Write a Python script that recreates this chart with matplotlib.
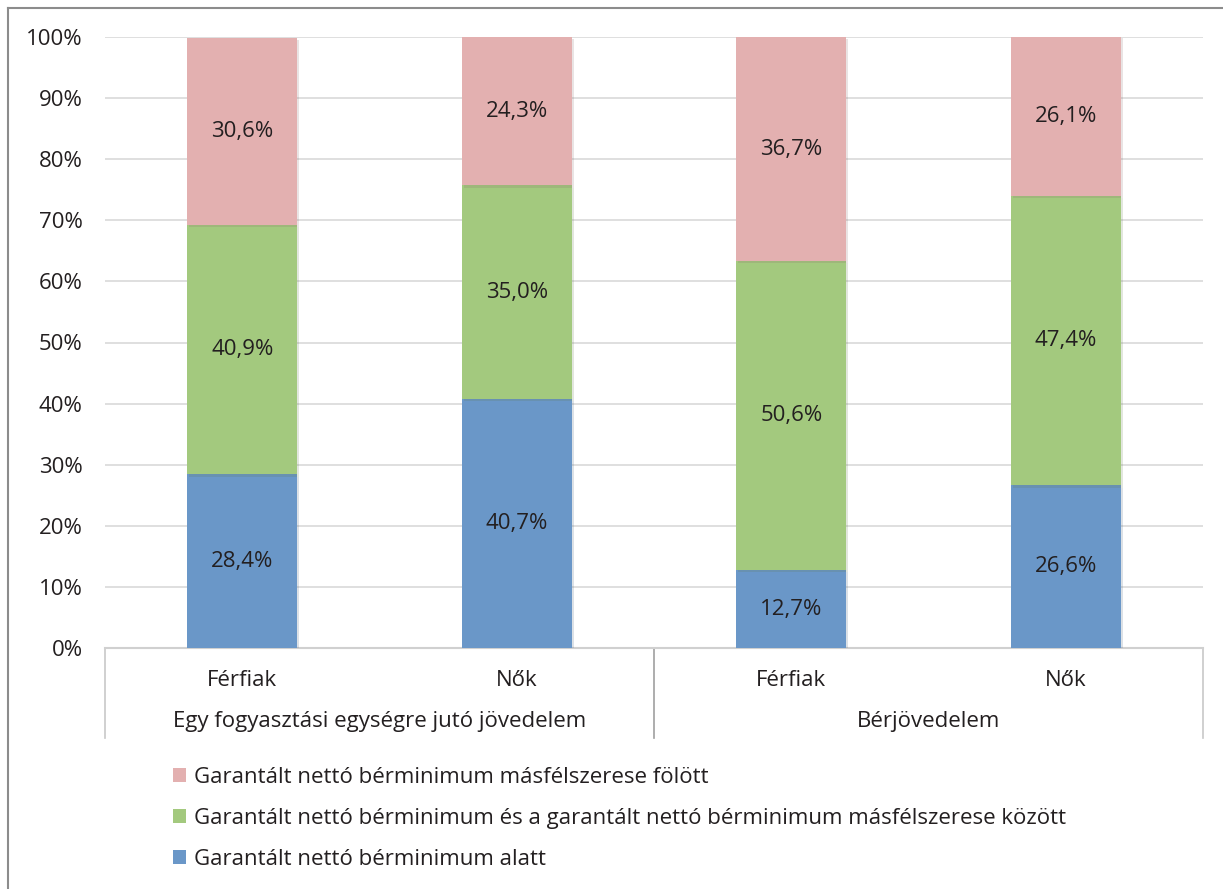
import matplotlib
matplotlib.use("Agg")
import matplotlib.pyplot as plt
from matplotlib.patches import Patch
from matplotlib.lines import Line2D
import matplotlib.patheffects as pe
import numpy as np

plt.rcParams['font.family'] = ['Open Sans', 'DejaVu Sans']

categories = ["Férfiak", "Nők", "Férfiak", "Nők"]
groups = ["Egy fogyasztási egységre jutó jövedelem", "Bérjövedelem"]
below = [28.4, 40.7, 12.7, 26.6]
between = [40.9, 35.0, 50.6, 47.4]
above = [30.6, 24.3, 36.7, 26.1]
series_names = [
    "Garantált nettó bérminimum alatt",
    "Garantált nettó bérminimum és a garantált nettó bérminimum másfélszerese között",
    "Garantált nettó bérminimum másfélszerese fölött",
]
colors = ["#6A97C8", "#A3C97E", "#E3B0B0"]
yticks = [0, 10, 20, 30, 40, 50, 60, 70, 80, 90, 100]

W, H = 1223, 889
FS = 16
fig = plt.figure(figsize=(W / 100, H / 100), dpi=100)
ax = fig.add_axes([105 / W, (H - 648) / H, (1203 - 105) / W, (648 - 37) / H])

x = np.arange(len(categories))
bottom = np.zeros(len(categories))
txt = "#231F20"
shadow = [pe.SimplePatchShadow(offset=(1.5, -1.5), alpha=0.18, rho=0.6), pe.Normal()]
for vals, col in zip([below, between, above], colors):
    bars = ax.bar(x, vals, bottom=bottom, width=0.4, color=col, zorder=3)
    for b in bars:
        b.set_path_effects(shadow)
    ax.bar_label(bars, labels=[f"{v:.1f}%".replace('.', ',') for v in vals],
                 label_type='center', fontsize=FS, color=txt, zorder=4)
    bottom += np.array(vals)

ax.set_xlim(-0.5, len(categories) - 0.5)
ax.set_ylim(0, 100)
ax.set_yticks(yticks)
ax.set_yticklabels([f"{t}%" for t in yticks], fontsize=FS, color=txt)
ax.tick_params(axis='y', length=0, pad=16)
ax.tick_params(axis='x', length=0)
ax.set_xticks([])
ax.grid(axis='y', color='#D9D9D9', linewidth=1.2, zorder=0)
for s in ['top', 'right', 'left']:
    ax.spines[s].set_visible(False)
ax.spines['bottom'].set_color('#D0D0D0')
ax.spines['bottom'].set_linewidth(1.5)

# category labels
for xi, c in zip(x, categories):
    ax.text(xi, -32 / 611, c, transform=ax.get_xaxis_transform(), ha='center', va='center',
            fontsize=FS, color=txt)
for gi, g in enumerate(groups):
    ax.text(2 * gi + 0.5, -74 / 611, g, transform=ax.get_xaxis_transform(), ha='center',
            va='center', fontsize=FS, color=txt)
for xv in [-0.5, 1.5, 3.5]:
    ax.add_line(Line2D([xv, xv], [0, -90 / 611], transform=ax.get_xaxis_transform(),
                       color='#C8C8C8' if xv != 1.5 else '#A0A0A0', linewidth=1.2, clip_on=False))

# legend
handles = [Patch(facecolor=colors[i]) for i in [2, 1, 0]]
labels = [series_names[i] for i in [2, 1, 0]]
fig.legend(handles, labels, loc='upper left', bbox_to_anchor=(153 / W, 1 - 747 / H),
           frameon=False, fontsize=FS, handlelength=0.6, handleheight=0.6,
           handletextpad=0.35, labelspacing=0.9, labelcolor=txt)

# outer border
fig.add_artist(Line2D([8 / W, 8 / W], [0, 1 - 8 / H], color='#8C8C8C', linewidth=1.5))
fig.add_artist(Line2D([8 / W, 1], [1 - 8 / H, 1 - 8 / H], color='#8C8C8C', linewidth=1.5))

fig.savefig("out.png", dpi=100, facecolor='white')
